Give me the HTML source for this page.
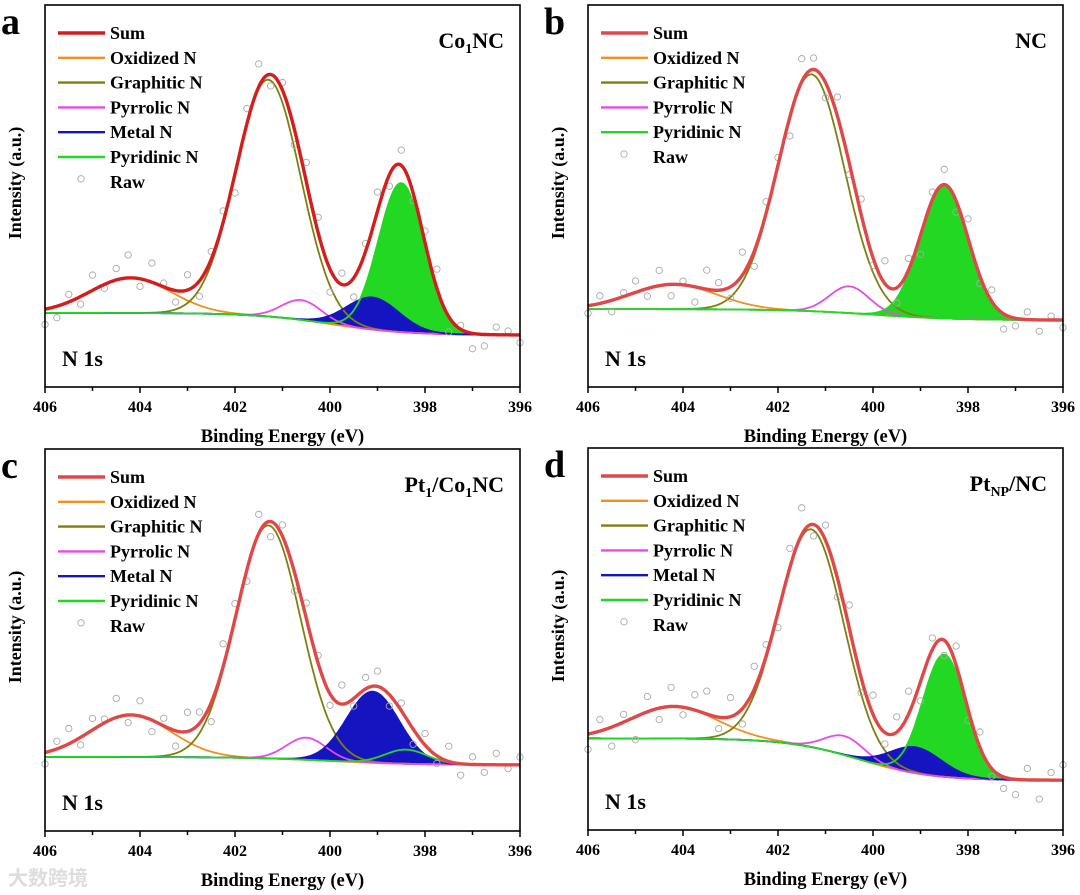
<!DOCTYPE html>
<html><head><meta charset="utf-8"><style>
html,body{margin:0;padding:0;background:#fff;}
svg{display:block;font-family:"Liberation Serif","Noto Serif CJK SC",serif;font-weight:bold;}
</style></head><body>
<svg id="fig" width="1080" height="895" viewBox="0 0 1080 895"></svg>
<script>
// ---- data (intensity in arbitrary units, 0..100 of plot height) ----
const energyTicks = [406,404,402,400,398,396];
const panelLetters = ["a","b","c","d"];
// background step: [high(left), low(right), center eV, width]
const bgA = [19.4, 13.6, 400.0, 0.8];
const bgB = [20.4, 17.5, 400.0, 0.9];
const bgC = [19.4, 17.3, 400.0, 0.9];
const bgD = [24.0, 13.0, 400.3, 0.75];
// components: [center eV, height, sigma]
const oxidA=[404.2,9.2,0.85],  graphA=[401.3,62,0.68], pyrrA=[400.6,5.2,0.42], metalA=[399.1,8.4,0.55], pyridA=[398.5,39,0.48];
const oxidB=[404.2,6.5,0.9],   graphB=[401.3,62,0.7],  pyrrB=[400.5,7,0.42],   metalB=null,              pyridB=[398.5,35,0.5];
const oxidC=[404.2,11,0.85],   graphC=[401.3,61,0.68], pyrrC=[400.5,5.8,0.42], metalC=[399.1,18.6,0.55], pyridC=[398.4,3.7,0.45];
const oxidD=[404.2,8.4,0.9],   graphD=[401.3,57,0.68], pyrrD=[400.6,5,0.42],   metalD=[399.1,6.8,0.55],  pyridD=[398.5,32,0.45];
// raw scatter: deviations from fit at energies 406..396 step 0.25
const rawDevA=[-4,-3,2,-2,4,-1,3,6,-2,5,1,-3,4,-4,2,3,-5,4,6,-3,2,-4,5,4,-6,3,-5,2,5,-3,4,-2,3,5,-4,1,-4,-3,2,1,-2];
const rawDevB=[-2,2,-3,1,3,-2,4,-3,1,-4,5,2,-3,6,-4,3,2,-5,6,3,-4,5,-3,4,-2,6,-4,3,-5,2,4,-3,5,-2,3,-4,-2,2,-3,1,-2];
const rawDevC=[-3,2,4,-2,3,1,5,-2,4,-3,2,-4,5,3,-5,6,4,-3,5,-4,3,-5,4,2,-3,5,-2,3,4,-3,2,-4,3,-2,4,-3,2,-2,3,-1,2];
const rawDevD=[-4,3,-5,2,-6,4,-3,5,-2,4,6,-3,5,-4,6,3,-4,5,7,-3,4,-5,6,-4,5,-3,4,6,-5,3,-4,5,-3,4,-2,-3,-4,3,-5,2,4];

const panels=[
 {x0:45,y0:5,letter:"a",title:["Co","1","NC",false],bg:bgA,c:[oxidA,graphA,pyrrA,metalA,pyridA],raw:rawDevA,sum:"#d41e1e"},
 {x0:588,y0:5,letter:"b",title:["NC","","",false],bg:bgB,c:[oxidB,graphB,pyrrB,metalB,pyridB],raw:rawDevB,sum:"#e04848"},
 {x0:45,y0:449,letter:"c",title:["Pt","1","/Co",true],bg:bgC,c:[oxidC,graphC,pyrrC,metalC,pyridC],raw:rawDevC,sum:"#e04848"},
 {x0:588,y0:448,letter:"d",title:["Pt","NP","/NC",false],bg:bgD,c:[oxidD,graphD,pyrrD,metalD,pyridD],raw:rawDevD,sum:"#e04848"}
];
const W=475,H=382;
const NS="http://www.w3.org/2000/svg";
const svg=document.getElementById('fig');
function mk(tag,attrs,parent){const e=document.createElementNS(NS,tag);for(const k in attrs)e.setAttribute(k,attrs[k]);(parent||svg).appendChild(e);return e;}
function gauss(p,E){return p?p[1]*Math.exp(-((E-p[0])**2)/(2*p[2]*p[2])):0;}
function bgv(b,E){return b[1]+(b[0]-b[1])/(1+Math.exp(-(E-b[2])/b[3]));}
const colors=["#f0901e","#7f7f10","#e84ae8","#1414c0","#22d822"];
const names=["Oxidized N","Graphitic N","Pyrrolic N","Metal N","Pyridinic N"];

panels.forEach((p,pi)=>{
 const g=mk('g',{});
 
 
 const xs=E=>p.x0+(406-E)/10*W;
 const ys=v=>p.y0+H-v/100*H;
 const Es=[];for(let i=0;i<=400;i++)Es.push(406-i*0.025);
 const sumv=E=>bgv(p.bg,E)+p.c.reduce((s,c)=>s+gauss(c,E),0);
 [4,3].forEach(ci=>{
   const c=p.c[ci]; if(!c)return;
   let d="M"+Es.map(E=>xs(E).toFixed(1)+","+ys(bgv(p.bg,E)+gauss(c,E)).toFixed(1)).join(" L");
   d+=" L"+Es.slice().reverse().map(E=>xs(E).toFixed(1)+","+ys(bgv(p.bg,E)).toFixed(1)).join(" L")+"Z";
   const f=mk('path',{d:d,fill:colors[ci],stroke:'none'},g);
   
   
 });
 [0,1,2,3,4].forEach(ci=>{
   const c=p.c[ci]; if(!c)return;
   const d="M"+Es.map(E=>xs(E).toFixed(1)+","+ys(bgv(p.bg,E)+gauss(c,E)).toFixed(1)).join(" L");
   const l=mk('path',{d:d,fill:'none',stroke:colors[ci],'stroke-width':1.8},g);
   
   
 });
 if(!p.c[3]){
   const d="M"+Es.map(E=>xs(E).toFixed(1)+","+ys(bgv(p.bg,E)).toFixed(1)).join(" L");
   const l=mk('path',{d:d,fill:'none',stroke:colors[4],'stroke-width':1.8},g);
   
   
 }
 p.raw.forEach((dv,i)=>{
   const E=406-i*0.25; const v=sumv(E)+dv;
   const c=mk('circle',{cx:xs(E),cy:ys(v),r:3.2,fill:'none',stroke:'#aaa','stroke-width':0.9},g);
   
   
 });
 const sd="M"+Es.map(E=>xs(E).toFixed(1)+","+ys(sumv(E)).toFixed(1)).join(" L");
 const sl=mk('path',{d:sd,fill:'none',stroke:p.sum,'stroke-width':3.4},g);
 
 
 const fr=mk('rect',{x:p.x0,y:p.y0,width:W,height:H,fill:'none',stroke:'#000','stroke-width':1.6},g);
 
 
 for(let E=406;E>=396;E--){
   const major=E%2==0;
   const t=mk('line',{x1:xs(E),x2:xs(E),y1:p.y0+H,y2:p.y0+H+(major?6:4),stroke:'#000','stroke-width':1.5},g);
   
   
 }
 energyTicks.forEach(E=>{
   const t=mk('text',{x:xs(E),y:p.y0+H+25,'text-anchor':'middle','font-size':16},g);
   t.textContent=E;
   
   
 });
 const xl=mk('text',{x:p.x0+W/2,y:p.y0+H+55,'text-anchor':'middle','font-size':18.5},g);
 xl.textContent="Binding Energy (eV)";
 
 
 const yl=mk('text',{x:0,y:0,'text-anchor':'middle','font-size':18,transform:`translate(${p.x0-24},${p.y0+178}) rotate(-90)`},g);
 yl.textContent="Intensity (a.u.)";
 
 
 const lt=mk('text',{x:p.x0-44,y:p.y0+29,'font-size':38},g);
 lt.textContent=p.letter;
 
 
 const ns=mk('text',{x:p.x0+17,y:p.y0+361,'font-size':22},g);
 ns.textContent="N 1s";
 
 
 const tt=mk('text',{x:p.x0+W-16,y:p.y0+43,'text-anchor':'end','font-size':22},g);
 
 
 const a=mk('tspan',{},tt);a.textContent=p.title[0];
 if(p.title[1]){const s=mk('tspan',{'font-size':14,dy:5},tt);s.textContent=p.title[1];
   const r=mk('tspan',{dy:-5},tt);r.textContent=p.title[2];
   if(p.title[3]){const s2=mk('tspan',{'font-size':14,dy:5},tt);s2.textContent="1";const r2=mk('tspan',{dy:-5},tt);r2.textContent="NC";}}
 const entries=[["Sum",p.sum,3.4]];
 p.c.forEach((c,ci)=>{if(c)entries.push([names[ci],colors[ci],2.4]);});
 entries.push(["Raw",null,0]);
 entries.forEach((en,i)=>{
   const y=p.y0+28+i*24.8;
   if(en[1]){const l=mk('line',{x1:p.x0+13,x2:p.x0+60,y1:y,y2:y,stroke:en[1],'stroke-width':en[2]},g);
     
     }
   else{const c=mk('circle',{cx:p.x0+36,cy:y-3,r:3.2,fill:'none',stroke:'#aaa','stroke-width':0.9},g);
     
     }
   const t=mk('text',{x:p.x0+65,y:y+6,'font-size':18},g);
   t.textContent=en[0];
   
   
 });
});
const wm=mk('text',{x:8,y:885,'font-size':20,fill:'#ddd','font-family':'"Noto Sans CJK SC",sans-serif'});
wm.textContent="大数跨境";


</script>
</body></html>
